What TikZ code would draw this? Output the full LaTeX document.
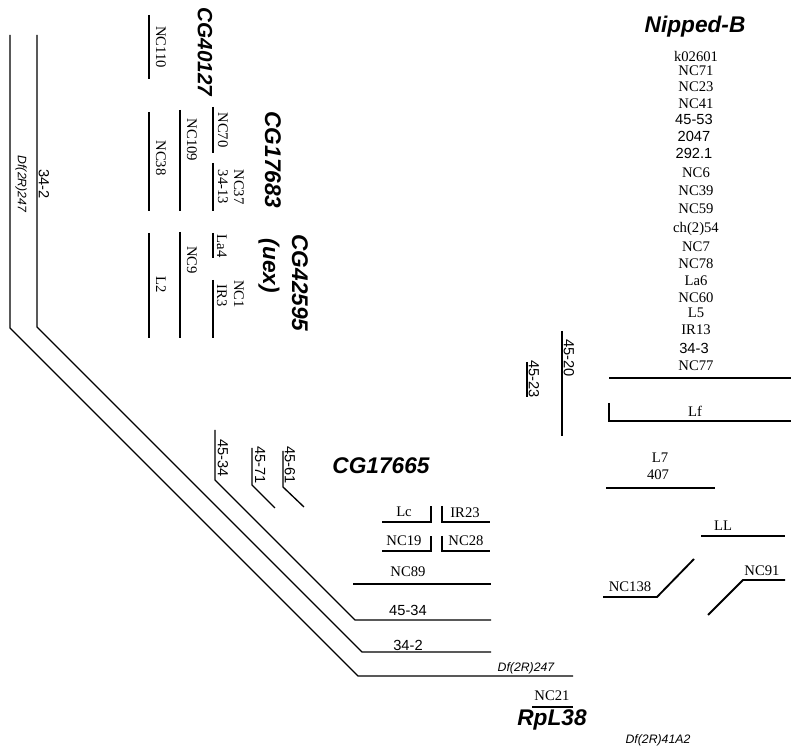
\documentclass[tikz,border=0pt]{standalone}
\usepackage{fontspec}
\setmainfont{Liberation Serif}
\setsansfont{Liberation Sans}
\begin{document}
\begin{tikzpicture}[x=0.75pt,y=-0.75pt,
  seg/.style={line width=1.4pt},
  thinseg/.style={line width=1pt},
  lab/.style={inner sep=0pt,font=\fontsize{11}{12}\selectfont},
  nlab/.style={inner sep=0pt,font=\sffamily\fontsize{11}{12}\selectfont},
  gene/.style={inner sep=0pt,font=\sffamily\bfseries\itshape\fontsize{17}{18}\selectfont},
  dflab/.style={inner sep=0pt,font=\sffamily\itshape\fontsize{9.2}{10}\selectfont},
  vert/.style={rotate=-90}]
\useasboundingbox (0,0) rectangle (794,752);

% ---- long deficiency lines ----
\draw[thinseg] (10,35) -- (10,328) -- (358,676) -- (573,676);
\draw[thinseg] (37,35) -- (37,327) -- (362,652) -- (491,652);
\draw[thinseg] (215,430) -- (215,480) -- (355,620) -- (491,620);
\draw[thinseg] (252,448) -- (252,485) -- (275,508);
\draw[thinseg] (283,451) -- (283,487) -- (304,507);
\node[dflab,vert] (dfv) at (21,184) {Df(2R)247};
\node[nlab,vert] (v342) at (44,184) {34-2};
\node[nlab,vert] (v4534) at (223,458) {45-34};
\node[nlab,vert] (v4571) at (260,465) {45-71};
\node[nlab,vert] (v4561) at (290,465) {45-61};
\node[dflab] (dfh) at (526,668) {Df(2R)247};
\node[nlab] (h342) at (408,645) {34-2};
\node[nlab] (h4534) at (408,610) {45-34};

% ---- top-left group ----
\draw[seg] (149,15) -- (149,79);
\node[lab,vert] at (161,47) {NC110};
\node[gene,vert,font=\sffamily\bfseries\itshape\fontsize{15.5}{17}\selectfont] (cg40127) at (205,52) {CG40127};

\draw[seg] (149,112) -- (149,211);
\node[lab,vert] at (161,158) {NC38};
\draw[seg] (180,110) -- (180,211);
\node[lab,vert] at (192,140) {NC109};
\draw[seg] (213,107) -- (213,153);
\node[lab,vert] at (223,130) {NC70};
\draw[seg] (213,163) -- (213,211);
\node[lab,vert] at (223,187) {34-13};
\node[lab,vert] at (239,187) {NC37};
\node[gene,vert] (cg17683) at (273,160) {CG17683};

\draw[seg] (149,233) -- (149,338);
\node[lab,vert] at (161,285) {L2};
\draw[seg] (180,232) -- (180,338);
\node[lab,vert] at (192,260) {NC9};
\draw[seg] (213,233) -- (213,258);
\node[lab,vert] at (222,246) {La4};
\draw[seg] (213,280) -- (213,338);
\node[lab,vert] at (222,296) {IR3};
\node[lab,vert] at (239,294) {NC1};
\node[gene,vert] (uex) at (269,266) {(uex)};
\node[gene,vert] (cg42595) at (300,283) {CG42595};

% ---- middle group ----
\node[gene] (cg17665) at (381,466) {CG17665};
\draw[seg] (382,522) -- (431,522) -- (431,506);
\node[lab] at (404,512) {Lc};
\draw[seg] (442,506) -- (442,522) -- (490,522);
\node[lab] at (465,513) {IR23};
\draw[seg] (382,551) -- (431,551) -- (431,536);
\node[lab] at (404,541) {NC19};
\draw[seg] (442,536) -- (442,551) -- (490,551);
\node[lab] at (466,541) {NC28};
\draw[seg] (353,584) -- (491,584);
\node[lab] at (408,572) {NC89};

\draw[seg] (532,707) -- (573,707);
\node[lab] (nc21) at (552,696) {NC21};
\node[gene] (rpl38) at (552,720) {RpL38};
\node[dflab] (df41) at (658,740) {Df(2R)41A2};

% ---- right group ----
\node[gene] (nipped) at (695,27) {Nipped-B};
\foreach \t/\y in {k02601/56,NC71/71,NC23/87,NC41/104,NC6/173,NC39/191,NC59/209,ch(2)54/229,NC7/247,NC78/264,La6/281,NC60/298,L5/313,IR13/330,NC77/366}
  \node[lab] at (696,\y) {\t};
\foreach \t/\y in {45-53/119,2047/136,292.1/153,34-3/348}
  \node[nlab] at (694,\y) {\t};
\draw[seg] (609,378) -- (791,378);
\draw[seg] (609,403) -- (609,421) -- (791,421);
\node[lab] at (695,411) {Lf};

\draw[seg] (562,331) -- (562,436);
\node[nlab,vert] at (569,358) {45-20};
\draw[seg] (527,362) -- (527,397);
\node[nlab,vert] at (534,379) {45-23};

\node[lab] at (660,458) {L7};
\node[lab] at (658,475) {407};
\draw[seg] (606,488) -- (715,488);
\node[lab] at (723,526) {LL};
\draw[seg] (701,536) -- (785,536);
\draw[seg] (603,597) -- (657,597) -- (694,559);
\node[lab] at (630,587) {NC138};
\draw[seg] (708,615) -- (743,580) -- (785,580);
\node[lab] at (762,571) {NC91};
\end{tikzpicture}
\end{document}
